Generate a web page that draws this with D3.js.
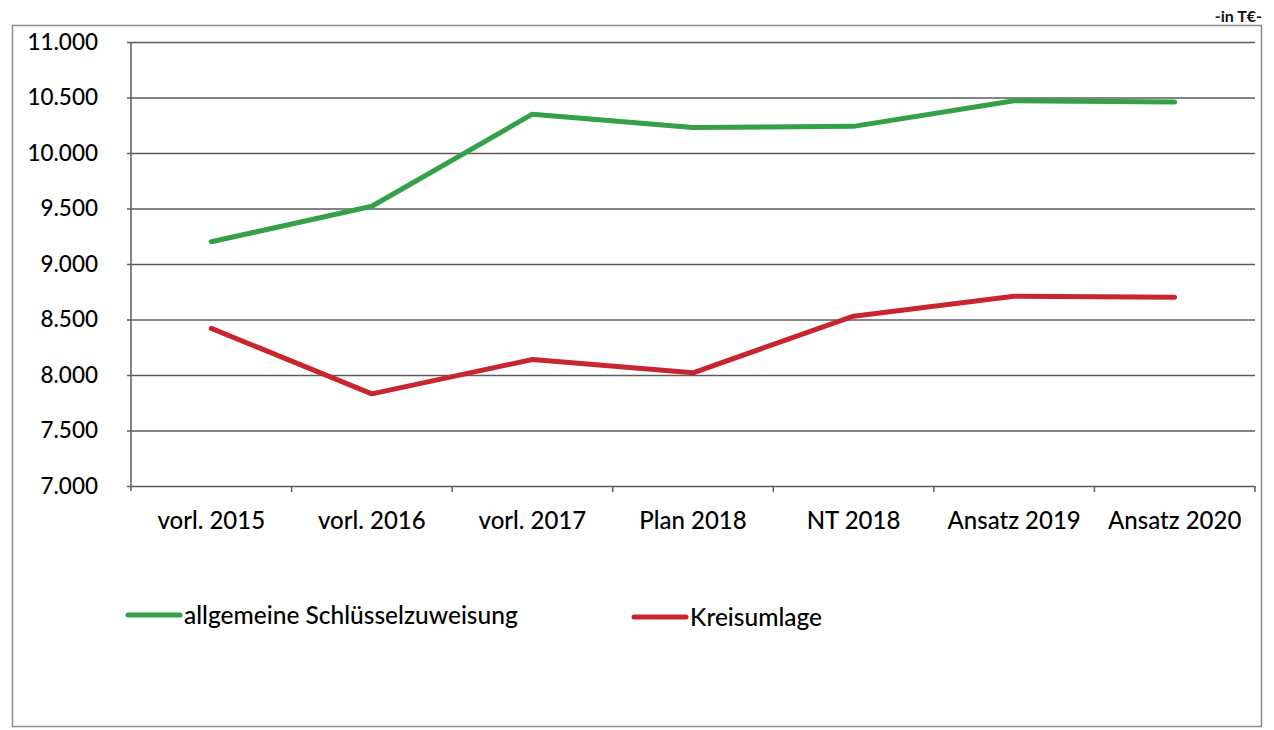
<!DOCTYPE html>
<html lang="de">
<head>
<meta charset="utf-8">
<script src="https://cdn.jsdelivr.net/npm/d3@7"></script>
<style>
  html, body { margin: 0; padding: 0; background: #fff; }
  svg { display: block; font-family: Lato, "Open Sans", sans-serif; }
</style>
</head>
<body>
<svg id="chart" width="1274" height="730"></svg>
<script>
// Categories (x axis) and series values in T€
const categories = ["vorl. 2015", "vorl. 2016", "vorl. 2017", "Plan 2018", "NT 2018", "Ansatz 2019", "Ansatz 2020"];
const schluesselzuweisung = [9200, 9520, 10350, 10230, 10240, 10470, 10460];
const kreisumlage = [8420, 7830, 8140, 8020, 8530, 8710, 8700];
const yTicks = [7000, 7500, 8000, 8500, 9000, 9500, 10000, 10500, 11000];
const seriesNames = ["allgemeine Schlüsselzuweisung", "Kreisumlage"];
const unitLabel = "-in T€-";

const series = [
  { name: seriesNames[0], values: schluesselzuweisung, color: "#34a048" },
  { name: seriesNames[1], values: kreisumlage, color: "#c8262e" }
];

const de = d3.formatLocale({ decimal: ",", thousands: ".", grouping: [3], currency: ["", " €"] });
const fmt = de.format(",.0f");

const svg = d3.select("#chart");
svg.append("rect").attr("width", 1274).attr("height", 730).attr("fill", "#fff");

// Outer chart frame
svg.append("rect")
  .attr("x", 12.5).attr("y", 25.5).attr("width", 1249).attr("height", 701)
  .attr("fill", "none").attr("stroke", "#8c8c8c").attr("stroke-width", 1.5);

svg.append("text")
  .attr("x", 1262).attr("y", 22)
  .attr("text-anchor", "end")
  .attr("font-size", 16).attr("font-weight", "bold").attr("fill", "#111")
  .text(unitLabel);

const plot = { left: 131, right: 1255, top: 42, bottom: 486 };

const x = d3.scaleBand().domain(categories).range([plot.left, plot.right]).padding(0);
const y = d3.scaleLinear().domain([7000, 11000]).range([plot.bottom, plot.top]);

// Horizontal gridlines with small left tick marks
const yAxis = d3.axisLeft(y)
  .tickValues(yTicks)
  .tickFormat(fmt)
  .tickSize(-(plot.right - plot.left + 4))
  .tickPadding(29);

const gy = svg.append("g")
  .attr("transform", `translate(${plot.left - 4},0)`)
  .call(yAxis);
gy.select(".domain").remove();
gy.selectAll(".tick line").attr("stroke", "#5c5c5c").attr("stroke-width", 1.5);
gy.selectAll(".tick text")
  .attr("font-size", 22.5).attr("fill", "#000").attr("font-weight", 500)
  .attr("font-family", "Lato, sans-serif");

// Vertical axis line
svg.append("line")
  .attr("x1", plot.left).attr("x2", plot.left)
  .attr("y1", y(11000)).attr("y2", plot.bottom + 5)
  .attr("stroke", "#5c5c5c").attr("stroke-width", 1.5);

// Category boundary ticks below the x axis
const boundaries = categories.map(c => x(c)).concat([plot.right]).slice(1);
svg.append("g").selectAll("line")
  .data(boundaries)
  .join("line")
  .attr("x1", d => d).attr("x2", d => d)
  .attr("y1", plot.bottom).attr("y2", plot.bottom + 6)
  .attr("stroke", "#5c5c5c").attr("stroke-width", 1.5);

// Category labels
svg.append("g").selectAll("text")
  .data(categories)
  .join("text")
  .attr("x", d => x(d) + x.bandwidth() / 2)
  .attr("y", 529)
  .attr("text-anchor", "middle")
  .attr("font-size", 24).attr("fill", "#000").attr("font-weight", 500)
  .text(d => d);

// Series lines
const line = d3.line()
  .x((d, i) => x(categories[i]) + x.bandwidth() / 2)
  .y(d => y(d));

svg.append("g").selectAll("path")
  .data(series)
  .join("path")
  .attr("d", d => line(d.values))
  .attr("fill", "none")
  .attr("stroke", d => d.color)
  .attr("stroke-width", 5)
  .attr("stroke-linejoin", "round")
  .attr("stroke-linecap", "round");

// Legend
const legendPos = [{ x: 128, y: 615 }, { x: 634, y: 617 }];
const legend = svg.append("g").selectAll("g")
  .data(series)
  .join("g")
  .attr("transform", (d, i) => `translate(${legendPos[i].x},${legendPos[i].y})`);
legend.append("line")
  .attr("x1", 0).attr("x2", 52).attr("y1", 0).attr("y2", 0)
  .attr("stroke", d => d.color).attr("stroke-width", 5).attr("stroke-linecap", "round");
legend.append("text")
  .attr("x", 56).attr("y", 9)
  .attr("font-size", 24.5).attr("fill", "#000").attr("font-weight", 500)
  .text(d => d.name);
</script>
</body>
</html>
